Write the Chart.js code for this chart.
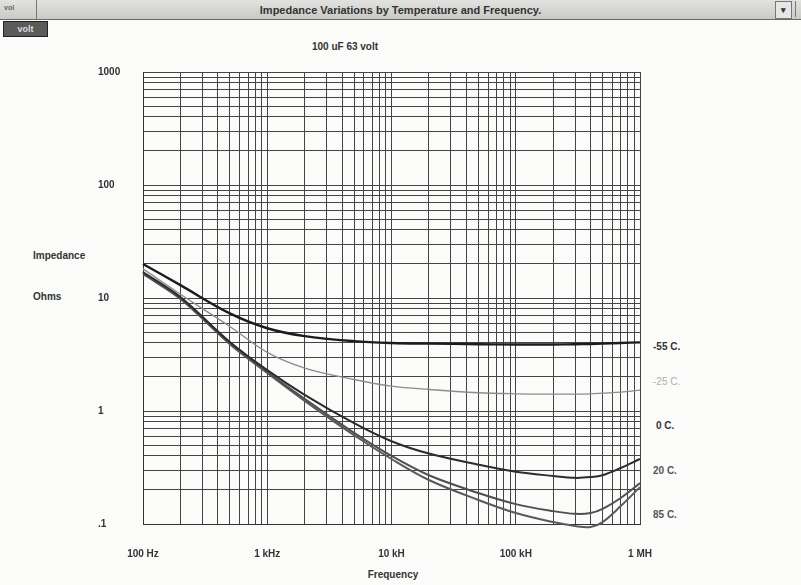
<!DOCTYPE html>
<html>
<head>
<meta charset="utf-8">
<script src="https://cdn.jsdelivr.net/npm/chart.js@4/dist/chart.umd.min.js"></script>
<style>
  html, body { margin:0; padding:0; background:#fbfbfa; }
  body { width:801px; height:585px; position:relative; overflow:hidden;
         font-family:"Liberation Sans Narrow","Liberation Sans",Arial,sans-serif; font-weight:bold; color:#333; }
  #wrap { position:absolute; left:0; top:0; width:801px; height:585px; }
  .t { position:absolute; white-space:nowrap; font-size:10px; line-height:10px; }
  #bar { position:absolute; left:0; top:0; width:801px; height:19px;
         background:linear-gradient(#e2e2e0,#c9c9c6); border-bottom:1px solid #6a6a6a; }
  #sysbox { position:absolute; left:0; top:0; width:36px; height:19px; border-right:1px solid #777;
            font-size:7px; color:#666; }
  #drop { position:absolute; left:775px; top:1px; width:15px; height:16px; border:1px solid #777;
          background:#e6e6e4; font-size:9px; text-align:center; line-height:16px; color:#333; }
  #drop2 { position:absolute; left:795px; top:1px; width:6px; height:16px; border-left:1px solid #777; }
  #btn { position:absolute; left:3px; top:21px; width:43px; height:14px; background:#5b5b5b;
         border:1px solid #222; color:#ddd; font-size:9px; text-align:center; line-height:14px; }
</style>
</head>
<body>
<div id="bar">
  <div id="sysbox"><span style="position:absolute;left:4px;top:4px">vol</span></div>
  <div class="t" style="left:0;width:801px;text-align:center;top:5px;font-size:11px;line-height:11px;color:#333">Impedance Variations by Temperature and Frequency.</div>
  <div id="drop">▾</div>
  <div id="drop2"></div>
</div>
<div id="btn">volt</div>
<div class="t" style="left:245px;width:200px;text-align:center;top:42px;">100 uF 63 volt</div>
<div class="t" style="left:33px;top:251px;">Impedance</div>
<div class="t" style="left:33px;top:292px;">Ohms</div>
<div class="t" style="left:300px;width:186px;text-align:center;top:570px;">Frequency</div>
<div class="t" style="left:653px;top:342px;">-55 C.</div>
<div class="t" style="left:653px;top:377px;color:#b0b0b0;font-weight:normal;">-25 C.</div>
<div class="t" style="left:656px;top:421px;">0 C.</div>
<div class="t" style="left:653px;top:466px;color:#555;">20 C.</div>
<div class="t" style="left:653px;top:510px;color:#555;">85 C.</div>
<div id="wrap"><canvas id="c" width="801" height="585"></canvas></div>
<script>
// ---- data ----
const freqs = [100, 200, 500, 1000, 2000, 5000, 10000, 20000, 50000, 100000, 200000, 300000, 400000, 500000, 700000, 1000000];
const zMinus55 = [20, 13.0, 7.3, 5.4, 4.6, 4.15, 4.0, 3.95, 3.9, 3.88, 3.88, 3.9, 3.92, 3.95, 4.0, 4.05];
const zMinus25 = [18.1, 10.8, 5.6, 3.3, 2.4, 1.9, 1.66, 1.55, 1.45, 1.42, 1.41, 1.41, 1.42, 1.44, 1.47, 1.53];
const z0 = [17.0, 10.2, 4.08, 2.3, 1.39, 0.78, 0.54, 0.42, 0.335, 0.29, 0.266, 0.256, 0.26, 0.27, 0.313, 0.376];
const z20 = [16.6, 10.0, 4.0, 2.21, 1.28, 0.64, 0.40, 0.27, 0.188, 0.15, 0.13, 0.123, 0.125, 0.136, 0.17, 0.23];
const z85 = [16.3, 9.8, 3.9, 2.17, 1.23, 0.61, 0.376, 0.245, 0.163, 0.125, 0.104, 0.096, 0.094, 0.104, 0.144, 0.212];
const seriesNames = ['-55 C.', '-25 C.', '0 C.', '20 C.', '85 C.'];
const xTickLabels = ['100 Hz', '1 kHz', '10 kH', '100 kH', '1 MH'];
const yTickLabels = ['.1', '1', '10', '100', '1000'];

function logTicks(minExp, maxExp) {
  const t = [];
  for (let d = minExp; d < maxExp; d++) {
    for (let m = 1; m <= 9; m++) t.push({ value: +(m * Math.pow(10, d)).toPrecision(6) });
  }
  t.push({ value: Math.pow(10, maxExp) });
  return t;
}
function isDecade(v) { const l = Math.log10(v); return Math.abs(l - Math.round(l)) < 1e-9; }
const pts = arr => freqs.map((f, i) => ({ x: f, y: arr[i] }));

const styles = [
  { c: '#1c1c1c', w: 2.4 },
  { c: '#8c8c8c', w: 1.3 },
  { c: '#2c2c2c', w: 2.0 },
  { c: '#505050', w: 2.0 },
  { c: '#5a5a5a', w: 2.0 }
];
const allSeries = [zMinus55, zMinus25, z0, z20, z85];
const font = { family: '"Liberation Sans Narrow","Liberation Sans",Arial,sans-serif', size: 10, weight: 'bold' };

new Chart(document.getElementById('c'), {
  type: 'line',
  data: {
    datasets: allSeries.map((s, i) => ({
      label: seriesNames[i],
      data: pts(s),
      borderColor: styles[i].c,
      borderWidth: styles[i].w,
      pointRadius: 0,
      tension: 0.35,
      fill: false,
      clip: false
    }))
  },
  options: {
    responsive: false,
    animation: false,
    devicePixelRatio: 1,
    layout: { padding: { left: 98, top: 72, right: 161, bottom: 0 } },
    plugins: { legend: { display: false }, tooltip: { enabled: false }, title: { display: false } },
    scales: {
      x: {
        type: 'logarithmic', min: 100, max: 1000000,
        afterBuildTicks: s => { s.ticks = logTicks(2, 6); },
        afterFit: s => { s.height = 61; },
        grid: { color: '#444', lineWidth: 1, drawTicks: false },
        border: { color: '#333', width: 1 },
        ticks: {
          autoSkip: false, maxRotation: 0, minRotation: 0, padding: 24,
          color: '#333', font: font,
          callback: v => isDecade(v) ? xTickLabels[Math.round(Math.log10(v)) - 2] : ''
        }
      },
      y: {
        type: 'logarithmic', min: 0.1, max: 1000,
        afterBuildTicks: s => { s.ticks = logTicks(-1, 3); },
        afterFit: s => { s.width = 45; },
        grid: { color: '#444', lineWidth: 1, drawTicks: false },
        border: { color: '#333', width: 1 },
        ticks: {
          autoSkip: false, crossAlign: 'far', padding: 0,
          color: '#333', font: font,
          callback: v => isDecade(v) ? yTickLabels[Math.round(Math.log10(v)) + 1] : ''
        }
      }
    }
  }
});
</script>
</body>
</html>
